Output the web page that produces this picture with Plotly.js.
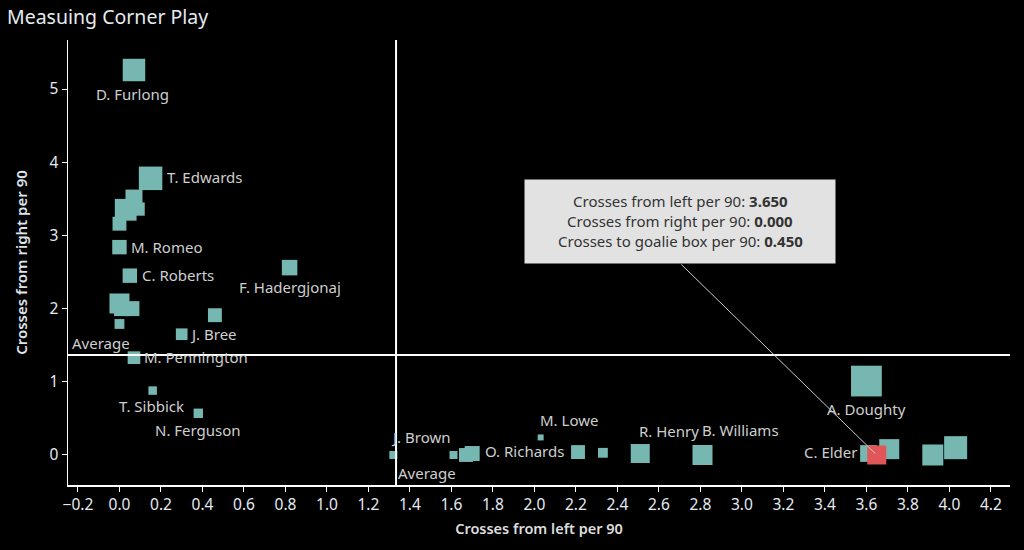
<!DOCTYPE html>
<html>
<head>
<meta charset="utf-8">
<script src="https://cdn.plot.ly/plotly-3.0.1.min.js"></script>
<style>
  html, body { margin: 0; padding: 0; background: #000; }
  #plot { width: 1024px; height: 550px; }
</style>
</head>
<body>
<div id="plot"></div>
<script>
// ============================================
// DATA
// ============================================

// players ("" = not labelled on the chart)
const names = [
    "D. Furlong", "T. Edwards", "", "", "", "", "M. Romeo", "C. Roberts",
    "F. Hadergjonaj", "", "", "", "", "", "J. Bree", "M. Pennington",
    "T. Sibbick", "N. Ferguson", "J. Brown", "", "", "O. Richards", "M. Lowe",
    "", "", "R. Henry", "B. Williams", "A. Doughty", "", "C. Elder", "", "", ""
];

const crossesLeft = [
    0.07, 0.15, 0.07, 0.03, 0.09, 0.00, 0.00, 0.05,
    0.82, 0.00, 0.06, 0.01, 0.00, 0.46, 0.30, 0.07,
    0.16, 0.38, 1.32, 1.61, 1.67, 1.70, 2.03,
    2.21, 2.33, 2.51, 2.81, 3.60, 3.61, 3.65, 3.71, 3.92, 4.03
];

const crossesRight = [
    5.26, 3.78, 3.51, 3.35, 3.36, 3.16, 2.84, 2.45,
    2.56, 2.07, 2.00, 2.00, 1.79, 1.91, 1.65, 1.33,
    0.88, 0.57, 0.00, 0.00, 0.00, 0.02, 0.24,
    0.04, 0.03, 0.02, 0.00, 1.01, 0.02, 0.00, 0.08, 0.00, 0.10
];

const goalieBox = [
    0.63, 0.69, 0.36, 0.59, 0.22, 0.24, 0.26, 0.26,
    0.30, 0.50, 0.28, 0.28, 0.12, 0.24, 0.17, 0.20,
    0.09, 0.11, 0.08, 0.08, 0.24, 0.28, 0.045,
    0.24, 0.12, 0.45, 0.50, 1.18, 0.35, 0.45, 0.50, 0.55, 0.66
];

const highlighted = "C. Elder";
const avgLeft = 1.333;
const avgRight = 1.366;

// ============================================
// STYLE
// ============================================

const TEAL = "#76b7b2";
const RED = "#e15759";
const FONT = "Noto Sans, sans-serif";
const LABEL_FONT = { family: FONT, size: 15, color: "#cfcfcf" };

// label placement: anchor + pixel offset from the mark
const labelPos = {
    "D. Furlong":     ["center", -1, -25],
    "T. Edwards":     ["left", 15, 0],
    "M. Romeo":       ["left", 11, -1],
    "C. Roberts":     ["left", 11, -1],
    "F. Hadergjonaj": ["center", 0, -21],
    "J. Bree":        ["left", 7, -1],
    "M. Pennington":  ["left", 9, -1],
    "T. Sibbick":     ["center", -1, -17],
    "N. Ferguson":    ["center", 0, -18],
    "J. Brown":       ["left", -3, 16],
    "O. Richards":    ["left", 12, 1],
    "M. Lowe":        ["left", -2, 16],
    "R. Henry":       ["left", -2, 21],
    "B. Williams":    ["left", -2, 23],
    "A. Doughty":     ["center", 0, -29],
    "C. Elder":       ["right", -18, 1]
};

// plotly area mode: diameter = sqrt(2 * v / sizeref) -> 0.45 gives 19px
const sizeRef = 2 * 0.45 / (19 * 19);

// ============================================
// TRACES
// ============================================

function buildTrace(idx, color) {
    return {
        x: idx.map(i => crossesLeft[i]),
        y: idx.map(i => crossesRight[i]),
        mode: "markers",
        type: "scatter",
        cliponaxis: false,
        hoverinfo: "none",
        marker: {
            symbol: "square",
            color: color,
            opacity: 1,
            size: idx.map(i => goalieBox[i]),
            sizemode: "area",
            sizeref: sizeRef,
            line: { width: 0 }
        }
    };
}

const all = names.map((n, i) => i);
const hi = names.indexOf(highlighted);

const traces = [
    buildTrace(all.filter(i => i !== hi), TEAL),
    buildTrace([hi], RED)
];

// ============================================
// LABELS
// ============================================

const labelAnnotations = all
    .filter(i => names[i] !== "")
    .map(i => {
        const p = labelPos[names[i]];
        return {
            text: names[i],
            x: crossesLeft[i],
            y: crossesRight[i],
            xref: "x", yref: "y",
            xanchor: p[0], yanchor: "middle",
            xshift: p[1], yshift: p[2] + 1.5,
            showarrow: false,
            borderpad: 0,
            font: LABEL_FONT
        };
    });

// ============================================
// TOOLTIP
// ============================================

const tipLines = [
    `Crosses from left per 90: <b>${crossesLeft[hi].toFixed(3)}</b>`,
    `Crosses from right per 90: <b>${crossesRight[hi].toFixed(3)}</b>`,
    `Crosses to goalie box per 90: <b>${goalieBox[hi].toFixed(3)}</b>`
];

const tipAnnotations = [
    {
        text: "", x: crossesLeft[hi], y: crossesRight[hi],
        xref: "x", yref: "y",
        showarrow: true, arrowhead: 0, arrowwidth: 1,
        arrowcolor: "#c8c8c8", standoff: 2,
        ax: -197, ay: -192
    },
    {
        text: " ", x: crossesLeft[hi], y: crossesRight[hi],
        xref: "x", yref: "y", showarrow: false,
        xshift: -196.5, yshift: 233.5,
        width: 306, height: 79, borderpad: 2,
        bgcolor: "#e2e2e2"
    }
].concat(tipLines.map((t, k) => ({
    text: t, x: crossesLeft[hi], y: crossesRight[hi],
    xref: "x", yref: "y", showarrow: false,
    xshift: -196.5, yshift: 254 - k * 20,
    font: { family: FONT, size: 15, color: "#333333" }
})));

// ============================================
// LAYOUT
// ============================================

const axisBase = {
    showgrid: false,
    zeroline: false,
    showline: true,
    linecolor: "#ffffff",
    linewidth: 1.5,
    ticks: "outside",
    ticklen: 5,
    tickcolor: "#ffffff",
    tickfont: { family: FONT, size: 15.5, color: "#e4ebf2" }
};

const layout = {
    width: 1024,
    height: 550,
    paper_bgcolor: "#000000",
    plot_bgcolor: "#000000",
    margin: { l: 68, r: 14, t: 40, b: 65 },
    showlegend: false,
    title: {
        text: "Measuing Corner Play",
        font: { family: FONT, size: 19.5, color: "#e6ebf0" },
        x: 7 / 1024,
        xanchor: "left",
        xref: "container",
        y: 0.968,
        yanchor: "middle",
        yref: "container"
    },
    xaxis: Object.assign({}, axisBase, {
        range: [-0.248, 4.292],
        dtick: 0.2,
        tick0: 0,
        tickformat: ".1f",
        title: {
            text: "Crosses from left per 90",
            font: { family: FONT, size: 14.5, color: "#dddddd", weight: 600 },
            standoff: 10
        }
    }),
    yaxis: Object.assign({}, axisBase, {
        range: [-0.41, 5.67],
        dtick: 1,
        title: {
            text: "Crosses from right per 90",
            font: { family: FONT, size: 15, color: "#dde4ec", weight: 600 },
            standoff: 18
        }
    }),
    shapes: [
        {
            type: "line", xref: "x", yref: "paper",
            x0: avgLeft, x1: avgLeft, y0: 0, y1: 1,
            line: { color: "#ffffff", width: 2 }
        },
        {
            type: "line", xref: "paper", yref: "y",
            x0: 0, x1: 1, y0: avgRight, y1: avgRight,
            line: { color: "#ffffff", width: 2 }
        }
    ],
    annotations: labelAnnotations.concat([
        {
            text: "Average", xref: "paper", yref: "y",
            x: 0, y: avgRight, xanchor: "left", yanchor: "bottom",
            xshift: 2, yshift: 0, showarrow: false,
            font: LABEL_FONT
        },
        {
            text: "Average", xref: "x", yref: "paper",
            x: avgLeft, y: 0, xanchor: "left", yanchor: "bottom",
            xshift: 0, yshift: 0, showarrow: false,
            font: LABEL_FONT
        }
    ], tipAnnotations)
};

Plotly.newPlot("plot", traces, layout, { displayModeBar: false, staticPlot: true });
</script>
</body>
</html>
